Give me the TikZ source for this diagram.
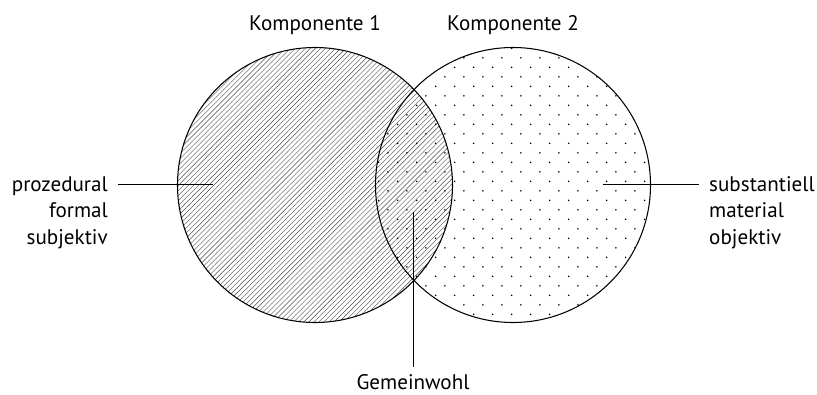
\documentclass[tikz,border=0pt]{standalone}
\usepackage{fontspec}
\setmainfont{PT Sans}
\usepackage{tikz}
\usetikzlibrary{patterns}

% Schraffur und Punkte fuer die beiden Komponenten
\pgfdeclarepatternformonly{schraffur}{\pgfqpoint{-1pt}{-1pt}}{\pgfqpoint{5.5pt}{5.5pt}}{\pgfqpoint{4.3pt}{4.3pt}}{%
  \pgfsetlinewidth{0.35pt}
  \pgfpathmoveto{\pgfqpoint{0pt}{0pt}}
  \pgfpathlineto{\pgfqpoint{4.4pt}{4.4pt}}
  \pgfusepath{stroke}}
\pgfdeclarepatternformonly{punkte}{\pgfpointorigin}{\pgfqpoint{16pt}{16.2pt}}{\pgfqpoint{16pt}{16.2pt}}{%
  \pgfpathcircle{\pgfqpoint{4pt}{4pt}}{0.75pt}
  \pgfpathcircle{\pgfqpoint{12pt}{12.1pt}}{0.75pt}
  \pgfusepath{fill}}

\begin{document}
\begin{tikzpicture}[x=0.03cm, y=-0.03cm,
    every node/.style={font=\fontsize{18}{22}\selectfont, inner sep=0pt},
    rand/.style={line width=0.9pt},
    zeiger/.style={line width=0.8pt}]
  \useasboundingbox (0,0) rectangle (817,394);
  % die beiden Komponenten
  \fill[pattern=schraffur, pattern color=black!70] (315,185) circle (137.5);
  \fill[pattern=punkte] (513,185) circle (137.5);
  \draw[rand] (315,185) circle (137.5) (513,185) circle (137.5);
  \node[anchor=base] (komp1) at (315,31) {Komponente 1};
  \node[anchor=base] (komp2) at (513,31) {Komponente 2};
  % Beschriftungen
  \foreach \txt/\yy [count=\i] in {prozedural/191, formal/217, subjektiv/244}
    \node[anchor=base east] (links\i) at (108,\yy) {\txt};
  \foreach \txt/\yy [count=\i] in {substantiell/191, material/217, objektiv/244}
    \node[anchor=base west] (rechts\i) at (709,\yy) {\txt};
  \node[anchor=base] (gemein) at (413,389) {Gemeinwohl};
  \coordinate (lspitze) at (213,184.5);
  \coordinate (rspitze) at (603,184.5);
  \coordinate (mspitze) at (413,212);
  \draw[zeiger] (links1.east |- lspitze) ++(10,0) -- (lspitze);
  \draw[zeiger] (rechts1.west |- rspitze) ++(-10,0) -- (rspitze);
  \draw[zeiger] (gemein.north) ++(0,-7) -- (mspitze);
\end{tikzpicture}
\end{document}
